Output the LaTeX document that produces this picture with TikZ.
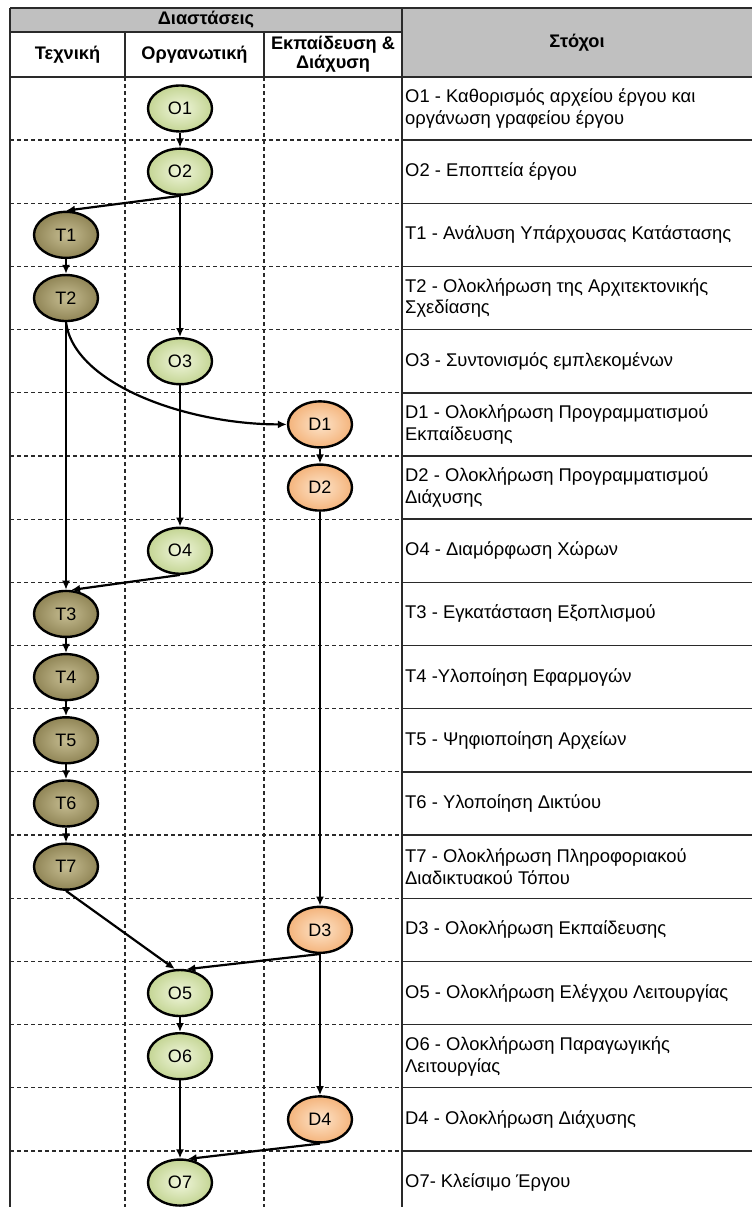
\documentclass[tikz,border=0pt]{standalone}
\usepackage{fontspec}
\setmainfont{Liberation Sans}
\usetikzlibrary{arrows.meta,shapes.geometric}

\definecolor{hdrgray}{HTML}{C0C0C0}
\definecolor{gridcol}{HTML}{2A2A2A}
\definecolor{orgin}{HTML}{F0F6DC}
\definecolor{orgout}{HTML}{C4D594}
\definecolor{techin}{HTML}{C6BD92}
\definecolor{techout}{HTML}{908556}
\definecolor{eduin}{HTML}{FDE4CA}
\definecolor{eduout}{HTML}{F4B47C}

\begin{document}
\begin{tikzpicture}[x=1pt,y=-1pt,
  grid/.style={draw=gridcol, line width=1.4pt},
  gridd/.style={draw=gridcol, line width=1.2pt, dash pattern=on 4pt off 3pt},
  hdr/.style={font=\fontsize{18.2}{19}\selectfont\bfseries, inner sep=0pt, align=center},
  goaltext/.style={font=\fontsize{18.4}{21.7}\selectfont, anchor=west, align=left, inner sep=0pt},
  task/.style={ellipse, draw=black, line width=2.4pt, minimum width=64pt, minimum height=46pt,
               inner sep=0pt, font=\fontsize{18}{19}\selectfont},
  org/.style={task, inner color=orgin, outer color=orgout},
  tech/.style={task, inner color=techin, outer color=techout},
  edu/.style={task, inner color=eduin, outer color=eduout},
  flow/.style={draw=black, line width=2.2pt, -{Latex[length=9pt,width=8pt]}}
]
\useasboundingbox (0,0) rectangle (752,1207);

% header cells
\fill[hdrgray] (10,8) rectangle (402,32);
\fill[hdrgray] (402,8) rectangle (752,77);

% table rules
\draw[gridd] (125,77) -- (125,1207);
\draw[gridd] (264,77) -- (264,1207);
\foreach \k in {1,...,17} {
  \draw[gridd] (10,{76.9+63.18*\k}) -- (402,{76.9+63.18*\k});
  \draw[grid] (402,{76.9+63.18*\k}) -- (752,{76.9+63.18*\k});
}
\draw[grid] (10,8) -- (752,8);
\draw[grid] (10,32) -- (402,32);
\draw[grid] (10,77) -- (752,77);
\draw[grid] (125,32) -- (125,77);
\draw[grid] (264,32) -- (264,77);
\draw[grid] (10,8) -- (10,1207);
\draw[grid, line width=1.8pt] (402,8) -- (402,1207);

% header labels
\node[hdr] (hdim) at (206,20) {Διαστάσεις};
\node[hdr] (htech) at (67.5,55) {Τεχνική};
\node[hdr] (horg) at (194.5,55) {Οργανωτική};
\node[hdr] (hedu) at (333,54) {Εκπαίδευση \&\\Διάχυση};
\node[hdr] (hgoal) at (577,42.5) {Στόχοι};

% goals
\node[goaltext] (g1)  at (405,108.49)  {O1 - Καθορισμός αρχείου έργου και\\οργάνωση γραφείου έργου};
\node[goaltext] (g2)  at (405,171.67)  {O2 - Εποπτεία έργου};
\node[goaltext] (g3)  at (405,234.85)  {T1 - Ανάλυση Υπάρχουσας Κατάστασης};
\node[goaltext] (g4)  at (405,298.03)  {T2 - Ολοκλήρωση της Αρχιτεκτονικής\\Σχεδίασης};
\node[goaltext] (g5)  at (405,361.21)  {O3 - Συντονισμός εμπλεκομένων};
\node[goaltext] (g6)  at (405,424.39)  {D1 - Ολοκλήρωση Προγραμματισμού\\Εκπαίδευσης};
\node[goaltext] (g7)  at (405,487.57)  {D2 - Ολοκλήρωση Προγραμματισμού\\Διάχυσης};
\node[goaltext] (g8)  at (405,550.75)  {O4 - Διαμόρφωση Χώρων};
\node[goaltext] (g9)  at (405,613.93)  {T3 - Εγκατάσταση Εξοπλισμού};
\node[goaltext] (g10) at (405,677.11)  {T4 -Υλοποίηση Εφαρμογών};
\node[goaltext] (g11) at (405,740.29)  {T5 - Ψηφιοποίηση Αρχείων};
\node[goaltext] (g12) at (405,803.47)  {T6 - Υλοποίηση Δικτύου};
\node[goaltext] (g13) at (405,866.65)  {T7 - Ολοκλήρωση Πληροφοριακού\\Διαδικτυακού Τόπου};
\node[goaltext] (g14) at (405,929.83)  {D3 - Ολοκλήρωση Εκπαίδευσης};
\node[goaltext] (g15) at (405,993.01)  {O5 - Ολοκλήρωση Ελέγχου Λειτουργίας};
\node[goaltext] (g16) at (405,1056.19) {O6 - Ολοκλήρωση Παραγωγικής\\Λειτουργίας};
\node[goaltext] (g17) at (405,1119.37) {D4 - Ολοκλήρωση Διάχυσης};
\node[goaltext] (g18) at (405,1182.55) {O7- Κλείσιμο Έργου};

% tasks
\node[org]  (O1) at (180,108.49)  {O1};
\node[org]  (O2) at (180,171.67)  {O2};
\node[tech] (T1) at (66,234.85)   {T1};
\node[tech] (T2) at (66,298.03)   {T2};
\node[org]  (O3) at (180,361.21)  {O3};
\node[edu]  (D1) at (320,424.39)  {D1};
\node[edu]  (D2) at (320,487.57)  {D2};
\node[org]  (O4) at (180,550.75)  {O4};
\node[tech] (T3) at (66,613.93)   {T3};
\node[tech] (T4) at (66,677.11)   {T4};
\node[tech] (T5) at (66,740.29)   {T5};
\node[tech] (T6) at (66,803.47)   {T6};
\node[tech] (T7) at (66,866.65)   {T7};
\node[edu]  (D3) at (320,929.83)  {D3};
\node[org]  (O5) at (180,993.01)  {O5};
\node[org]  (O6) at (180,1056.19) {O6};
\node[edu]  (D4) at (320,1119.37) {D4};
\node[org]  (O7) at (180,1182.55) {O7};

% dependencies
\draw[flow] (O1.south) -- (O2.north);
\draw[flow] (O2.south) -- (T1.north);
\draw[flow] (O2.south) -- (O3.north);
\draw[flow] (T1.south) -- (T2.north);
\draw[flow] (T2.south) -- (T3.north);
\draw[flow] (T2.south) .. controls +(8,62) and +(-100,0) .. (D1.west);
\draw[flow] (O3.south) -- (O4.north);
\draw[flow] (O4.south) -- (T3.78);
\draw[flow] (D1.south) -- (D2.north);
\draw[flow] (D2.south) -- (D3.north);
\draw[flow] (T3.south) -- (T4.north);
\draw[flow] (T4.south) -- (T5.north);
\draw[flow] (T5.south) -- (T6.north);
\draw[flow] (T6.south) -- (T7.north);
\draw[flow] (T7.south) -- (O5.102);
\draw[flow] (D3.south) -- (O5.75);
\draw[flow] (D3.south) -- (D4.north);
\draw[flow] (O5.south) -- (O6.north);
\draw[flow] (O6.south) -- (O7.north);
\draw[flow] (D4.south) -- (O7.72);
\end{tikzpicture}
\end{document}
